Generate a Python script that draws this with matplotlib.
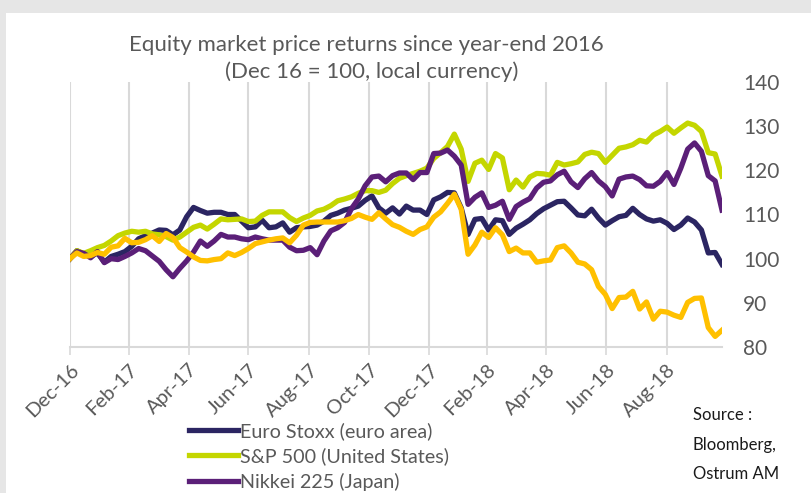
import matplotlib
matplotlib.use('Agg')
import matplotlib.pyplot as plt
import numpy as np
import pandas as pd

plt.rcParams['font.family'] = ['Lato', 'DejaVu Sans']

# weekly closes, Dec 16 = 100
dates = pd.date_range('2016-12-30', periods=96, freq='7D')

euro_stoxx = [
    100, 101.8, 101, 100.5, 101.3, 99.2, 100.5, 101, 101.6, 102.8,
    104.5, 105.2, 105.8, 106.5, 106.4, 105.4, 106.5, 109.5, 111.6, 110.9,
    110.3, 110.5, 110.5, 110, 110, 108.5, 107, 107.2, 108.7, 107,
    107.2, 108.1, 106, 107, 107.2, 107.3, 107.6, 108.5, 109.8, 110.3,
    111, 111.4, 111.9, 113.2, 114.2, 111.5, 110.3, 111.5, 110.1, 111.9,
    111, 111, 110, 113.3, 114, 115, 114.9, 111.5, 105.5, 108.9,
    109.1, 106.5, 108.8, 108.6, 105.5, 106.9, 107.8, 108.8, 110.2, 111.3,
    112.1, 112.9, 113, 111.5, 109.9, 109.7, 111.2, 109.2, 107.6, 108.6,
    109.5, 109.8, 111.4, 110, 109, 108.5, 108.8, 108, 106.6, 107.6,
    109.2, 108.3, 106.5, 101.3, 101.4, 98.7,
]

sp500 = [
    100, 101.8, 101.2, 101.8, 102.5, 103, 104, 105.2, 105.8, 106.2,
    106, 106.2, 105.6, 105.4, 105, 104.2, 104.9, 106, 107.1, 107.6,
    106.7, 107.8, 109, 108.8, 108.9, 109, 108.4, 108.5, 109.8, 110.6,
    110.6, 110.6, 109.3, 108.4, 109.2, 109.8, 110.8, 111.2, 112, 113.1,
    113.5, 114, 114.8, 115.4, 115.4, 115, 115.5, 117, 118.2, 118.8,
    119.3, 119.8, 120.5, 122.7, 124, 125.4, 128.2, 124.8, 117.5, 121.6,
    122.3, 120.2, 123.8, 122.8, 115.6, 117.8, 116.2, 118.5, 119.3, 119.2,
    118.9, 121.8, 121.2, 121.5, 121.9, 123.6, 124.1, 123.8, 121.8, 123.4,
    125, 125.3, 125.8, 126.8, 126.4, 128, 128.8, 129.8, 128.4, 129.6,
    130.7, 130.2, 128.8, 124, 123.7, 118.7,
]

nikkei = [
    100, 101.6, 101.2, 100.2, 101.6, 99.1, 100, 99.8, 100.5, 101.3,
    102.3, 101.8, 100.6, 99.4, 97.5, 95.9, 97.8, 99.5, 101.5, 104,
    102.8, 104, 105.5, 104.9, 104.9, 104.5, 104.3, 104.9, 104.5, 104.2,
    104.2, 104.2, 102.6, 101.8, 101.9, 102.5, 100.9, 104, 106.3, 107,
    108.2, 111.3, 113.5, 116.5, 118.5, 118.7, 117.4, 118.8, 119.4, 119.4,
    117.9, 119.5, 119.5, 123.8, 123.9, 124.6, 123.2, 121.2, 112.3, 113.9,
    114.9, 111.6, 112.1, 113, 108.9, 111.8, 112.8, 113.6, 116, 117.3,
    117.6, 119, 119.8, 117.4, 116.1, 118.1, 119.5, 117.6, 116.3, 114.2,
    118, 118.5, 118.7, 117.9, 116.5, 116.4, 117.5, 119.5, 116.8, 120.5,
    124.8, 126.2, 124.3, 118.8, 117.6, 111,
]

# fourth series, its legend entry is cut off in the original
fourth_index = [
    100, 101.3, 100.5, 100.7, 101.4, 101, 102.6, 102.9, 104.6, 103.6,
    103.7, 104.3, 105.2, 103.9, 105.7, 104.8, 102.5, 101.5, 100.4, 99.6,
    99.5, 99.8, 100, 101.3, 100.7, 101.4, 102.3, 103.4, 103.8, 104.2,
    104.5, 104.7, 103.6, 105.3, 107.6, 108.2, 108.3, 108.3, 108.3, 108.3,
    108.6, 109.1, 110, 109.4, 108.9, 110.4, 109, 107.7, 107.1, 106.2,
    105.5, 106.6, 107.2, 109.4, 110.6, 112.5, 114.6, 111.2, 101, 103.1,
    106, 104.8, 107, 105.4, 101.6, 102.4, 101.3, 101.3, 99.2, 99.5,
    99.7, 102.5, 102.9, 101.3, 99.2, 98.8, 97.5, 93.7, 91.9, 88.7,
    91.2, 91.3, 92.6, 88.6, 90.2, 86.3, 88.1, 87.9, 87.2, 86.7,
    90.1, 91, 91.1, 84.4, 82.4, 83.8,
]

tick_dates = ['2016-12-30', '2017-02-28', '2017-04-30', '2017-06-30',
              '2017-08-31', '2017-10-31', '2017-12-31', '2018-02-28',
              '2018-04-30', '2018-06-30', '2018-08-31']
tick_labels = ['Dec-16', 'Feb-17', 'Apr-17', 'Jun-17', 'Aug-17', 'Oct-17',
               'Dec-17', 'Feb-18', 'Apr-18', 'Jun-18', 'Aug-18']
y_ticks = [80, 90, 100, 110, 120, 130, 140]

grey_text = '#595959'
grid_col = '#d9d9d9'

fig = plt.figure(figsize=(8.12, 4.93), dpi=100)
fig.patch.set_facecolor('#e6e6e6')
fig.patches.append(plt.Rectangle((6 / 812, 0), 1, 1 - 13 / 493,
                                 transform=fig.transFigure,
                                 facecolor='white', edgecolor='none',
                                 zorder=-5))

ax = fig.add_axes([70 / 812, 1 - 347 / 493, 652 / 812, 265 / 493])
ax.set_facecolor('none')

lw = 3.8
ax.plot(dates, euro_stoxx, color='#2b2562', lw=lw, label='Euro Stoxx (euro area)',
        solid_joinstyle='round')
ax.plot(dates, sp500, color='#c4d600', lw=lw, label='S&P 500 (United States)',
        solid_joinstyle='round')
ax.plot(dates, nikkei, color='#5b1f78', lw=lw, label='Nikkei 225 (Japan)',
        solid_joinstyle='round')
ax.plot(dates, fourth_index, color='#ffc000', lw=lw, label='_nolegend_',
        solid_joinstyle='round')

ax.set_xlim(dates[0], dates[-1])
ax.set_ylim(80, 140)

tpos = pd.to_datetime(tick_dates)
ax.set_xticks(tpos)
ax.set_xticklabels(tick_labels, rotation=45, ha='right',
                   rotation_mode='anchor', fontsize=14.5, color=grey_text)
ax.tick_params(axis='x', length=6, width=1.2, color=grid_col, pad=4)
ax.grid(axis='x', color=grid_col, lw=1.5)
ax.set_axisbelow(True)

ax.yaxis.tick_right()
ax.set_yticks(y_ticks)
ax.set_yticklabels([str(v) for v in y_ticks], fontsize=15, color=grey_text)
ax.tick_params(axis='y', length=0, pad=15)

for s in ['top', 'left', 'right']:
    ax.spines[s].set_visible(False)
ax.spines['bottom'].set_color(grid_col)
ax.spines['bottom'].set_linewidth(1.5)

fig.text(366 / 812, 1 - 45 / 493, 'Equity market price returns since year-end 2016',
         ha='center', va='center', fontsize=16, color=grey_text)
fig.text(372 / 812, 1 - 72 / 493, '(Dec 16 = 100, local currency)',
         ha='center', va='center', fontsize=16, color=grey_text)

leg = fig.legend(loc='upper left', bbox_to_anchor=(179 / 812, 1 - 412 / 493),
                 frameon=False, fontsize=14.2, handlelength=2.5,
                 handletextpad=0.1, labelspacing=0.38, borderpad=0)
for t in leg.get_texts():
    t.set_color(grey_text)

for txt, y in zip(['Source :', 'Bloomberg,', 'Ostrum AM'], [415, 445, 474]):
    fig.text(693 / 812, 1 - y / 493, txt, ha='left', va='center',
             fontsize=12, color='#1a1a1a')

fig.savefig('out.png', dpi=100, facecolor=fig.get_facecolor())
